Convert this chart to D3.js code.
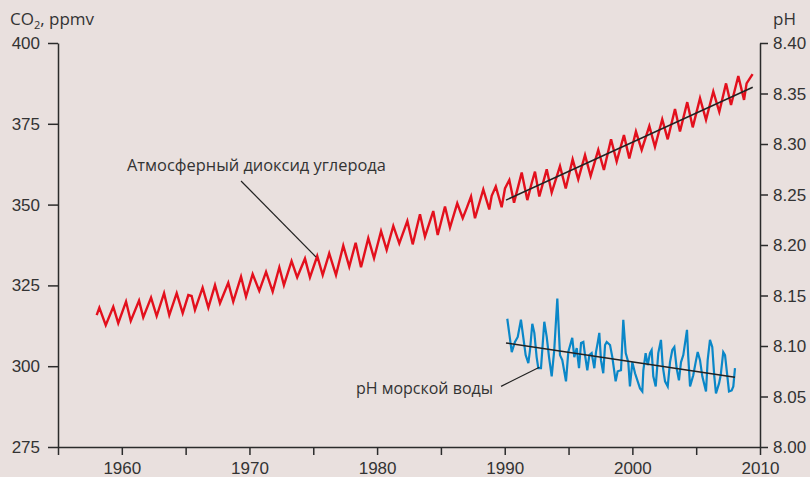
<!DOCTYPE html>
<html>
<head>
<meta charset="utf-8">
<script src="https://cdn.jsdelivr.net/npm/d3@7"></script>
<style>
  html, body { margin: 0; padding: 0; background: #e9e0de; }
  svg { display: block; font-family: "Open Sans", sans-serif; }
  .axis text { font-size: 17px; fill: #333; }
  .axis path, .axis line { stroke: #2b2b2b; stroke-width: 1.5; }
</style>
</head>
<body>
<svg id="chart" width="810" height="477"></svg>
<script>
// Atmospheric CO2 (Mauna Loa style seasonal cycle): time in decimal years, ppmv
const co2Time = [
  1958.03, 1958.24, 1958.74, 1959.33, 1959.72, 1960.33, 1960.70, 1961.35, 1961.68,
  1962.29, 1962.73, 1963.31, 1963.72, 1964.30, 1964.77, 1965.21, 1965.47, 1965.73,
  1966.33, 1966.78, 1967.30, 1967.69, 1968.34, 1968.73, 1969.34, 1969.73, 1970.25,
  1970.77, 1971.30, 1971.82, 1972.34, 1972.70, 1973.30, 1973.74, 1974.35, 1974.74,
  1975.31, 1975.74, 1976.25, 1976.78, 1977.35, 1977.82, 1978.32, 1978.74, 1979.31,
  1979.76, 1980.31, 1980.75, 1981.27, 1981.74, 1982.37, 1982.79, 1983.36, 1983.75,
  1984.40, 1984.75, 1985.32, 1985.71, 1986.28, 1986.71, 1987.02, 1987.36, 1987.67,
  1988.32, 1988.79, 1988.98, 1989.30, 1989.76, 1990.02, 1990.36, 1990.73, 1991.33,
  1991.77, 1992.11, 1992.37, 1992.71, 1993.29, 1993.68, 1994.33, 1994.78, 1995.32,
  1995.76, 1996.29, 1996.73, 1997.33, 1997.77, 1998.33, 1998.77, 1999.34, 1999.76,
  2000.28, 2000.73, 2001.33, 2001.77, 2002.34, 2002.77, 2003.34, 2003.73, 2004.30,
  2004.73, 2005.30, 2005.77, 2006.34, 2006.81, 2007.34, 2007.73, 2008.30, 2008.75,
  2008.95, 2009.42
];
const co2Value = [
  315.8, 318.1, 312.7, 318.4, 313.3, 320.0, 314.0, 320.3, 315.1,
  321.2, 315.5, 322.6, 315.8, 322.6, 316.4, 322.0, 321.7, 317.4,
  324.3, 318.1, 325.1, 319.5, 325.8, 320.0, 327.7, 321.5, 328.5,
  323.3, 329.2, 323.1, 330.6, 325.1, 332.5, 327.5, 333.3, 327.5,
  334.1, 328.2, 334.9, 328.2, 337.3, 330.8, 338.2, 330.6, 339.6,
  333.4, 341.8, 336.0, 343.4, 338.0, 344.9, 337.7, 347.0, 340.1,
  348.0, 340.6, 349.4, 342.9, 350.4, 345.8, 348.9, 352.5, 345.8,
  354.7, 348.5, 352.7, 355.6, 349.2, 355.0, 357.6, 350.6, 359.9,
  351.4, 356.6, 360.2, 352.5, 360.9, 353.7, 361.9, 355.0, 364.0,
  357.8, 365.3, 358.8, 366.9, 360.7, 370.2, 363.3, 371.5, 364.3,
  372.6, 366.9, 374.3, 367.9, 376.4, 370.2, 379.6, 372.6, 381.7,
  373.9, 382.9, 376.2, 385.0, 378.7, 387.5, 380.8, 389.8, 382.4,
  387.5, 390.4
];
// Linear CO2 trend, 1990 onward
const co2TrendTime = [1990.1, 2009.43];
const co2TrendValue = [351.4, 386.3];

// Surface seawater pH
const phTime = [
  1990.20, 1990.55, 1990.80, 1991.02, 1991.27, 1991.64, 1991.85, 1991.98, 1992.16,
  1992.32, 1992.50, 1992.63, 1992.84, 1993.10, 1993.29, 1993.47, 1993.68, 1993.88,
  1994.12, 1994.33, 1994.51, 1994.80, 1994.98, 1995.29, 1995.45, 1995.64, 1995.82,
  1995.98, 1996.16, 1996.29, 1996.47, 1996.63, 1996.81, 1997.02, 1997.15, 1997.28,
  1997.41, 1997.54, 1997.72, 1997.86, 1997.99, 1998.25, 1998.43, 1998.69, 1998.85,
  1999.11, 1999.29, 1999.48, 1999.68, 1999.81, 2000.00, 2000.21, 2000.60, 2000.78,
  2000.86, 2001.04, 2001.20, 2001.38, 2001.51, 2001.64, 2001.83, 2002.03, 2002.24,
  2002.38, 2002.56, 2002.77, 2002.95, 2003.13, 2003.29, 2003.47, 2003.65, 2003.81,
  2003.99, 2004.28, 2004.38, 2004.52, 2004.77, 2004.96, 2005.12, 2005.30, 2005.48,
  2005.77, 2005.90, 2006.08, 2006.26, 2006.42, 2006.55, 2006.79, 2006.92, 2007.12,
  2007.26, 2007.39, 2007.57, 2007.78, 2007.91, 2008.04
];
const phValue = [
  8.127, 8.094, 8.104, 8.109, 8.126, 8.091, 8.083, 8.096, 8.122,
  8.113, 8.089, 8.078, 8.078, 8.124, 8.109, 8.089, 8.070, 8.096,
  8.147, 8.091, 8.086, 8.065, 8.094, 8.108, 8.089, 8.098, 8.078,
  8.103, 8.104, 8.091, 8.076, 8.091, 8.093, 8.078, 8.094, 8.103,
  8.113, 8.086, 8.073, 8.101, 8.104, 8.101, 8.089, 8.065, 8.075,
  8.076, 8.126, 8.093, 8.084, 8.060, 8.084, 8.073, 8.058, 8.055,
  8.076, 8.093, 8.081, 8.093, 8.096, 8.070, 8.060, 8.093, 8.106,
  8.080, 8.065, 8.060, 8.084, 8.096, 8.099, 8.078, 8.066, 8.084,
  8.091, 8.116, 8.089, 8.060, 8.071, 8.084, 8.094, 8.086, 8.070,
  8.055, 8.086, 8.106, 8.099, 8.070, 8.053, 8.063, 8.071, 8.094,
  8.091, 8.076, 8.055, 8.056, 8.060, 8.078
];
// Linear pH trend
const phTrendTime = [1990.10, 2008.04];
const phTrendValue = [8.103, 8.069];

// Axis ticks
const yearTicks = d3.range(1955, 2011, 5);
const co2Ticks = [275, 300, 325, 350, 375, 400];
const phTicks = [8.00, 8.05, 8.10, 8.15, 8.20, 8.25, 8.30, 8.35, 8.40];

// Series labels with their leader lines (anchored in data coordinates)
const co2Label = "Атмосферный диоксид углерода";
const co2LeaderTime = [1969.34, 1975.21];
const co2LeaderValue = [357.3, 333.8];
const phLabel = "рН морской воды";
const phLeaderTime = [1989.71, 1992.71];
const phLeaderValue = [8.060, 8.079];

const svg = d3.select("#chart");

const x = d3.scaleLinear().domain([1955, 2010]).range([58, 760]);
const yL = d3.scaleLinear().domain([275, 400]).range([447, 43]);
const yR = d3.scaleLinear().domain([8.00, 8.40]).range([447, 43]);

// Axes
svg.append("g").attr("class", "axis")
  .attr("transform", "translate(0,447)")
  .call(d3.axisBottom(x).tickValues(yearTicks).tickSize(8).tickSizeOuter(0).tickPadding(6)
    .tickFormat(d => d % 10 === 0 ? d : ""));

svg.append("g").attr("class", "axis")
  .attr("transform", "translate(58,0)")
  .call(d3.axisLeft(yL).tickValues(co2Ticks).tickSize(10).tickSizeOuter(0).tickPadding(8));

svg.append("g").attr("class", "axis")
  .attr("transform", "translate(760,0)")
  .call(d3.axisRight(yR).tickValues(phTicks).tickSize(8).tickSizeOuter(0).tickPadding(5)
    .tickFormat(d3.format(".2f")));

svg.selectAll(".axis .tick text").attr("dy", null).attr("dominant-baseline", "central");
svg.selectAll(".axis").filter((d, i) => i === 0).selectAll(".tick text")
  .attr("dominant-baseline", "hanging").attr("y", 15);

// Axis titles
const t1 = svg.append("text").attr("x", 10).attr("y", 25)
  .attr("font-size", 17).attr("fill", "#333");
t1.append("tspan").text("CO");
t1.append("tspan").text("2").attr("font-size", 11).attr("dy", 4);
t1.append("tspan").text(", ppmv").attr("dy", -4);

svg.append("text").attr("x", 773).attr("y", 25)
  .attr("font-size", 17).attr("fill", "#333").text("pH");

// Series
const co2Data = co2Time.map((t, i) => [t, co2Value[i]]);
const phData = phTime.map((t, i) => [t, phValue[i]]);

svg.append("path")
  .attr("d", d3.line().x(d => x(d[0])).y(d => yL(d[1]))(co2Data))
  .attr("fill", "none").attr("stroke", "#e3101d").attr("stroke-width", 2.4)
  .attr("stroke-linejoin", "miter");

svg.append("path")
  .attr("d", d3.line().x(d => x(d[0])).y(d => yR(d[1]))(phData))
  .attr("fill", "none").attr("stroke", "#0a87c8").attr("stroke-width", 2.2);

// Trend lines
svg.append("line")
  .attr("x1", x(co2TrendTime[0])).attr("y1", yL(co2TrendValue[0]))
  .attr("x2", x(co2TrendTime[1])).attr("y2", yL(co2TrendValue[1]))
  .attr("stroke", "#222").attr("stroke-width", 1.5);
svg.append("line")
  .attr("x1", x(phTrendTime[0])).attr("y1", yR(phTrendValue[0]))
  .attr("x2", x(phTrendTime[1])).attr("y2", yR(phTrendValue[1]))
  .attr("stroke", "#222").attr("stroke-width", 1.5);

// Labels and leaders
svg.append("line")
  .attr("x1", x(co2LeaderTime[0])).attr("y1", yL(co2LeaderValue[0]))
  .attr("x2", x(co2LeaderTime[1])).attr("y2", yL(co2LeaderValue[1]))
  .attr("stroke", "#222").attr("stroke-width", 1.2);
svg.append("text").attr("x", 127).attr("y", 171)
  .attr("font-size", 16.4).attr("fill", "#333").text(co2Label);

svg.append("line")
  .attr("x1", x(phLeaderTime[0])).attr("y1", yR(phLeaderValue[0]))
  .attr("x2", x(phLeaderTime[1])).attr("y2", yR(phLeaderValue[1]))
  .attr("stroke", "#222").attr("stroke-width", 1.2);
svg.append("text").attr("x", 493).attr("y", 394).attr("text-anchor", "end")
  .attr("font-size", 16).attr("fill", "#333").text(phLabel);
</script>
</body>
</html>
